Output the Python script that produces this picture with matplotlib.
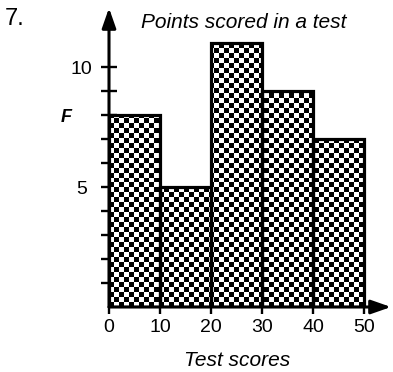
import numpy as np
import matplotlib
matplotlib.use('Agg')
import matplotlib.pyplot as plt
from matplotlib.path import Path

plt.rcParams['font.family'] = ['Liberation Sans', 'DejaVu Sans']

# data
bin_left = [0, 10, 20, 30, 40]
freq = [8, 5, 11, 9, 7]
bin_width = 10
xticks = [0, 10, 20, 30, 40, 50]
yticks = [1, 2, 3, 4, 5, 6, 7, 8, 9, 10]
ylabels = {5: '5', 10: '10'}

W, H = 393, 372
fig = plt.figure(figsize=(W / 100, H / 100), dpi=100)
# axes placed in pixels: x=0 at 109px, y=0 at 307px
x0, y0 = 109, 307
px_x = 5.1    # pixels per score unit
px_y = 24.0   # pixels per frequency unit
xmax = (W - 2 - x0) / px_x
ymax = (y0 - 8) / px_y
ax = fig.add_axes([x0 / W, (H - y0) / H, (W - 2 - x0) / W, (y0 - 8) / H])
ax.set_xlim(0, xmax)
ax.set_ylim(0, ymax)

bars = ax.bar(bin_left, freq, width=bin_width, align='edge',
              facecolor='none', edgecolor='black', linewidth=2.3, zorder=3)

# checkerboard fill clipped to the bars (squares about 5 px)
top = max(freq)
nx = int(round(50 * px_x / 5))
ny = int(round(top * px_y / 5))
checker = np.indices((ny, nx)).sum(0) % 2
im = ax.imshow(checker, cmap='gray', extent=(0, 50, 0, top), origin='lower',
               interpolation='nearest', aspect='auto', zorder=2)
clip = Path.make_compound_path(*[b.get_path().transformed(b.get_patch_transform())
                                 for b in bars])
im.set_clip_path(clip, ax.transData)

for s in ax.spines.values():
    s.set_visible(False)

# axes with arrows
arrow = dict(arrowstyle='-|>,head_length=1.2,head_width=0.42',
             lw=2.2, color='black', shrinkA=0, shrinkB=0)
ax.annotate('', xy=(0, 1), xycoords='axes fraction', xytext=(0, 0),
            arrowprops=arrow, zorder=5)
ax.annotate('', xy=(1, 0), xycoords='axes fraction', xytext=(0, 0),
            arrowprops=arrow, zorder=5)

ax.set_xticks(xticks)
ax.set_xticklabels([str(t) for t in xticks])
ax.set_yticks(yticks)
ax.set_yticklabels([ylabels.get(t, '') for t in yticks], ha='center')
ax.tick_params(axis='y', direction='inout', length=12, width=1.7, labelsize=14, pad=14)
ax.tick_params(axis='x', direction='out', length=5, width=1.7, labelsize=14, pad=4)

fig.text(66 / W, 1 - 118 / H, 'F', fontsize=13, fontweight='bold', style='italic',
         ha='center', va='center')
fig.text(244 / W, 1 - 23 / H, 'Points scored in a test', fontsize=15,
         style='italic', ha='center', va='center')
fig.text(237 / W, 1 - 361 / H, 'Test scores', fontsize=15,
         style='italic', ha='center', va='center')
fig.text(5 / W, 1 - 19 / H, '7.', fontsize=17, ha='left', va='center')

fig.savefig('out.png', dpi=100)
